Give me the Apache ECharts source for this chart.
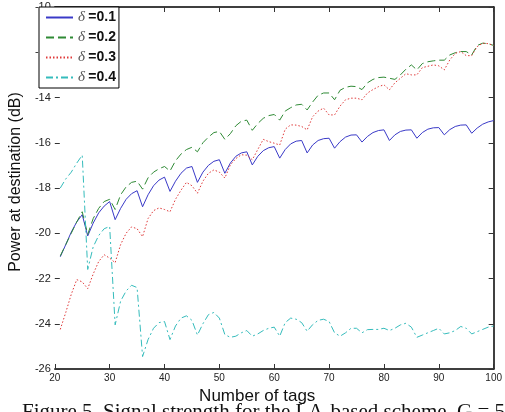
<!DOCTYPE html>
<html>
<head>
<meta charset="utf-8">
<script src="https://cdn.jsdelivr.net/npm/echarts@6/dist/echarts.min.js"></script>
<style>
html,body{margin:0;padding:0;background:#fff;}
#chart{width:505px;height:412px;}
</style>
</head>
<body>
<div id="chart"></div>
<script>
var tags = [21,22,23,24,25,26,27,28,29,30,31,32,33,34,35,36,37,38,39,40,
    41,42,43,44,45,46,47,48,49,50,51,52,53,54,55,56,57,58,59,60,
    61,62,63,64,65,66,67,68,69,70,71,72,73,74,75,76,77,78,79,80,
    81,82,83,84,85,86,87,88,89,90,91,92,93,94,95,96,97,98,99,100];

var delta01 = [-21.04,-20.5,-19.95,-19.5,-19.18, -20.12,-19.55,-19.1,-18.8,-18.6,
    -19.4,-18.9,-18.5,-18.25,-18.12, -18.83,-18.3,-17.9,-17.65,-17.52,
    -18.15,-17.7,-17.35,-17.12,-17.05, -17.75,-17.3,-17.0,-16.82,-16.75,
    -17.35,-16.9,-16.6,-16.45,-16.4, -16.98,-16.6,-16.35,-16.22,-16.17,
    -16.68,-16.3,-16.05,-15.93,-15.9, -16.45,-16.1,-15.9,-15.82,-15.8,
    -16.24,-15.95,-15.75,-15.66,-15.65, -15.97,-15.72,-15.55,-15.46,-15.43,
    -15.9,-15.65,-15.5,-15.44,-15.43, -15.8,-15.55,-15.4,-15.34,-15.33,
    -15.65,-15.42,-15.28,-15.22,-15.21, -15.58,-15.35,-15.18,-15.08,-15.02];

var delta02 = [-21.0,-20.5,-20.0,-19.5,-19.05, -20.05,-19.35,-18.9,-18.6,-18.5,
    -18.95,-18.3,-17.95,-17.75,-17.7, -18.05,-17.55,-17.3,-17.15,-17.05,
    -17.25,-16.8,-16.5,-16.3,-16.2, -16.4,-16.0,-15.75,-15.55,-15.5,
    -15.85,-15.6,-15.25,-15.05,-15.0, -15.45,-15.15,-14.92,-14.8,-14.75,
    -15.0,-14.6,-14.45,-14.33,-14.3, -14.55,-14.2,-13.9,-13.8,-13.8,
    -14.1,-13.68,-13.55,-13.5,-13.52, -13.65,-13.35,-13.2,-13.12,-13.1,
    -13.15,-13.2,-13.0,-12.75,-12.56, -12.78,-12.5,-12.42,-12.38,-12.35,
    -12.35,-12.12,-12.02,-11.97,-11.97, -12.12,-11.7,-11.6,-11.62,-11.7];

var delta03 = [-24.25,-23.5,-22.7,-22.05,-22.15, -22.45,-21.8,-21.25,-20.95,-21.1,
    -21.3,-20.5,-20.0,-19.72,-19.8, -20.15,-19.35,-19.0,-18.88,-18.95,
    -19.05,-18.5,-18.1,-17.75,-17.9, -18.23,-17.7,-17.35,-17.2,-17.3,
    -17.56,-16.98,-16.7,-16.53,-16.55, -16.75,-16.3,-15.85,-15.95,-16.02,
    -16.1,-15.4,-15.21,-15.22,-15.28, -15.43,-14.85,-14.6,-14.47,-14.77,
    -14.77,-14.38,-14.1,-14.03,-14.03, -14.1,-13.8,-13.65,-13.52,-13.44,
    -13.66,-13.35,-13.15,-12.95,-13.0, -13.0,-12.68,-12.62,-12.56,-12.6,
    -12.78,-12.34,-12.05,-11.97,-12.15, -12.15,-11.75,-11.6,-11.62,-11.7];

var delta04 = [-18.0,-17.6,-17.3,-16.9,-16.55, -21.6,-20.6,-20.1,-19.8,-19.7,
    -24.05,-23.0,-22.55,-22.3,-22.4, -25.45,-24.7,-24.2,-23.95,-23.9,
    -24.7,-24.1,-23.75,-23.65,-23.85, -24.5,-24.0,-23.6,-23.5,-23.75,
    -24.48,-24.6,-24.55,-24.4,-24.3, -24.55,-24.45,-24.3,-24.2,-24.15,
    -24.55,-23.95,-23.75,-23.8,-23.95, -24.33,-24.04,-23.85,-23.8,-23.9,
    -24.4,-24.55,-24.4,-24.2,-24.2, -24.4,-24.26,-24.25,-24.25,-24.2,
    -24.3,-24.2,-24.05,-23.98,-24.15, -24.6,-24.5,-24.4,-24.3,-24.2,
    -24.45,-24.4,-24.3,-24.12,-24.2, -24.45,-24.35,-24.25,-24.15,-24.1];

var seriesNames = ['d1','d2','d3','d4'];
var legendLabels = ['0.1','0.2','0.3','0.4'];
var xTicks = [20,30,40,50,60,70,80,90,100];
var yTicks = [-26,-24,-22,-20,-18,-16,-14,-12,-10];

function pairs(vals){
    var out = [];
    for (var i = 0; i < vals.length; i++) out.push([tags[i], vals[i]]);
    return out;
}

var chart = echarts.init(document.getElementById('chart'));
var spine = {show:true, lineStyle:{color:'#000', width:1.5}};
var option = {
    animation:false,
    backgroundColor:'#fff',
    grid:{left:39, right:9, top:7, bottom:43},
    legend:{
        orient:'vertical',
        left:39, top:7,
        padding:[3,3,3,6],
        itemWidth:27, itemHeight:14, itemGap:5,
        backgroundColor:'#fff',
        borderColor:'#000', borderWidth:1,
        itemStyle:{opacity:0},
        data:seriesNames,
        formatter:function(name){
            return '{d|\u03b4} {v|=' + legendLabels[seriesNames.indexOf(name)] + '}';
        },
        textStyle:{
            rich:{
                d:{fontFamily:'Liberation Serif', fontStyle:'italic', fontSize:15, color:'#555'},
                v:{fontFamily:'Liberation Sans', fontWeight:'bold', fontSize:14, color:'#111'}
            }
        }
    },
    xAxis:[{
        type:'value', min:20, max:100, interval:10,
        name:'Number of tags', nameLocation:'middle', nameGap:15,
        nameTextStyle:{fontFamily:'Liberation Sans', fontSize:17, color:'#111', padding:[0,34,0,0]},
        axisLine:spine,
        axisTick:{inside:true, length:5, lineStyle:{color:'#333'}},
        axisLabel:{fontFamily:'Liberation Sans', fontSize:10, color:'#222', margin:4,
            formatter:function(v){ return xTicks.indexOf(v) >= 0 ? String(v) : ''; }},
        splitLine:{show:false}
    },{
        type:'value', min:20, max:100, interval:10, position:'top',
        axisLine:spine,
        axisTick:{inside:true, length:5, lineStyle:{color:'#333'}},
        axisLabel:{show:false}, splitLine:{show:false}
    }],
    yAxis:[{
        type:'value', min:-26, max:-10, interval:2,
        name:'Power at destination (dB)', nameLocation:'middle', nameGap:23,
        nameTextStyle:{fontFamily:'Liberation Sans', fontSize:16, color:'#111', padding:[0,0,0,12]},
        axisLine:{show:false},
        axisTick:{show:true, inside:true, length:5, lineStyle:{color:'#333'}},
        axisLabel:{fontFamily:'Liberation Sans', fontSize:11, color:'#222', margin:4,
            formatter:function(v){ return yTicks.indexOf(v) >= 0 ? String(v) : ''; }},
        splitLine:{show:false}
    },{
        type:'value', min:-26, max:-10, interval:2, position:'right',
        axisLine:spine,
        axisTick:{show:true, inside:true, length:5, lineStyle:{color:'#333'}},
        axisLabel:{show:false}, splitLine:{show:false}
    }],
    graphic:[{
        type:'text', left:22, top:402,
        style:{text:'Figure 5. Signal strength for the LA-based scheme, G = 5',
            font:'21px "Liberation Serif"', fill:'#111'}
    }],
    series:[
        {name:'d1', type:'line', data:pairs(delta01), symbol:'none',
            lineStyle:{color:'#3a3ac8', width:1, type:'solid'}, itemStyle:{color:'#3a3ac8'}},
        {name:'d2', type:'line', data:pairs(delta02), symbol:'none',
            lineStyle:{color:'#2f8a35', width:1, type:[8,4]}, itemStyle:{color:'#2f8a35'}},
        {name:'d3', type:'line', data:pairs(delta03), symbol:'none',
            lineStyle:{color:'#e03a3a', width:1, type:[1.5,2]}, itemStyle:{color:'#e03a3a'}},
        {name:'d4', type:'line', data:pairs(delta04), symbol:'none',
            lineStyle:{color:'#35bcbc', width:1, type:[7,3,2,3]}, itemStyle:{color:'#35bcbc'}}
    ]
};
chart.setOption(option);
</script>
</body>
</html>
